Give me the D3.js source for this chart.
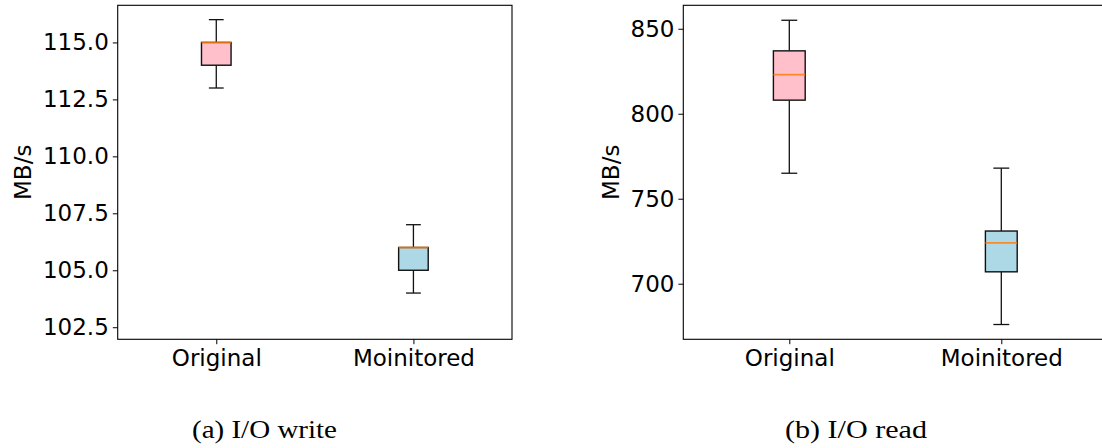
<!DOCTYPE html>
<html>
<head>
<meta charset="utf-8" />
<title>I/O box plots</title>
<script src="https://d3js.org/d3.v7.min.js"></script>
<style>
    body { margin: 0; background: #fff; }
    svg text { font-family: 'DejaVu Sans', sans-serif; fill: #000; }
</style>
</head>
<body>
<div id="chart"></div>
<script>
    // categories and box stats: [whisker low, q1, median, q3, whisker high]
    var categories = ["Original", "Moinitored"];
    var writeStats = [[113, 114, 115, 115, 116], [104, 105, 106, 106, 107]];
    var readStats = [[765, 808, 823, 837, 855], [676, 707, 724, 731, 768]];
    var writeTicks = [102.5, 105.0, 107.5, 110.0, 112.5, 115.0];
    var readTicks = [700, 750, 800, 850];
    var boxColors = ["pink", "lightblue"];
    var captions = ["(a) I/O write", "(b) I/O read"];

    var width = 1102, height = 448;
    var svg = d3.select("#chart").append("svg")
        .attr("width", width)
        .attr("height", height);

    // one panel per plot
    var panels = [
        { stats: writeStats, ticks: writeTicks, fmt: d3.format(".1f"), yDom: [101.97, 116.63],
          left: 117.7, right: 512, labelX: 31, capX: 264.5, capLen: 145 },
        { stats: readStats, ticks: readTicks, fmt: d3.format("d"), yDom: [667.3, 863.8],
          left: 683.3, right: 1107.3, labelX: 619, capX: 856, capLen: 142 }
    ];
    var plotTop = 5.3, plotBottom = 339.3;

    panels.forEach(function (p, pi) {
        var x = d3.scaleLinear().domain([0.5, 2.5]).range([p.left, p.right]);
        var y = d3.scaleLinear().domain(p.yDom).range([plotBottom, plotTop]);
        var g = svg.append("g");
        var bw = x(0.075) - x(0);   // half box width
        var cw = bw / 2;            // half cap width

        p.stats.forEach(function (s, i) {
            var cx = x(i + 1);
            // whiskers
            g.append("line").attr("x1", cx).attr("x2", cx).attr("y1", y(s[0])).attr("y2", y(s[1]))
                .attr("stroke", "#111").attr("stroke-width", 1.3);
            g.append("line").attr("x1", cx).attr("x2", cx).attr("y1", y(s[3])).attr("y2", y(s[4]))
                .attr("stroke", "#111").attr("stroke-width", 1.3);
            // caps
            [s[0], s[4]].forEach(function (v) {
                g.append("line").attr("x1", cx - cw).attr("x2", cx + cw)
                    .attr("y1", y(v)).attr("y2", y(v))
                    .attr("stroke", "#111").attr("stroke-width", 1.3);
            });
            // box
            g.append("rect").attr("x", cx - bw).attr("width", bw * 2)
                .attr("y", y(s[3])).attr("height", y(s[1]) - y(s[3]))
                .attr("fill", boxColors[i]).attr("stroke", "#111").attr("stroke-width", 1.4);
            // median
            g.append("line").attr("x1", cx - bw).attr("x2", cx + bw)
                .attr("y1", y(s[2])).attr("y2", y(s[2]))
                .attr("stroke", "#ff7f0e").attr("stroke-opacity", 0.85).attr("stroke-width", 1.8);
        });

        // frame
        g.append("rect").attr("x", p.left).attr("y", plotTop)
            .attr("width", p.right - p.left).attr("height", plotBottom - plotTop)
            .attr("fill", "none").attr("stroke", "#000").attr("stroke-width", 1.1);

        // y axis
        var ya = g.append("g").attr("transform", "translate(" + p.left + ",0)")
            .call(d3.axisLeft(y).tickValues(p.ticks).tickFormat(p.fmt).tickSize(4.9).tickPadding(4));
        ya.select(".domain").remove();
        ya.selectAll("text").style("font-size", "23px");

        // x axis
        var xa = g.append("g").attr("transform", "translate(0," + plotBottom + ")")
            .call(d3.axisBottom(x).tickValues([1, 2]).tickFormat(function (d) { return categories[d - 1]; })
                .tickSize(4.9).tickPadding(5));
        xa.select(".domain").remove();
        xa.selectAll("text").style("font-size", "23px");

        // y label
        g.append("text")
            .attr("transform", "translate(" + p.labelX + "," + ((plotTop + plotBottom) / 2) + ") rotate(-90)")
            .attr("text-anchor", "middle")
            .style("font-size", "23px")
            .text("MB/s");

        // caption under the panel
        g.append("text")
            .attr("x", p.capX - p.capLen / 2).attr("y", 438)
            .attr("textLength", p.capLen).attr("lengthAdjust", "spacingAndGlyphs")
            .style("font-family", "'Liberation Serif', serif")
            .style("font-size", "26px")
            .text(captions[pi]);
    });
</script>
</body>
</html>
